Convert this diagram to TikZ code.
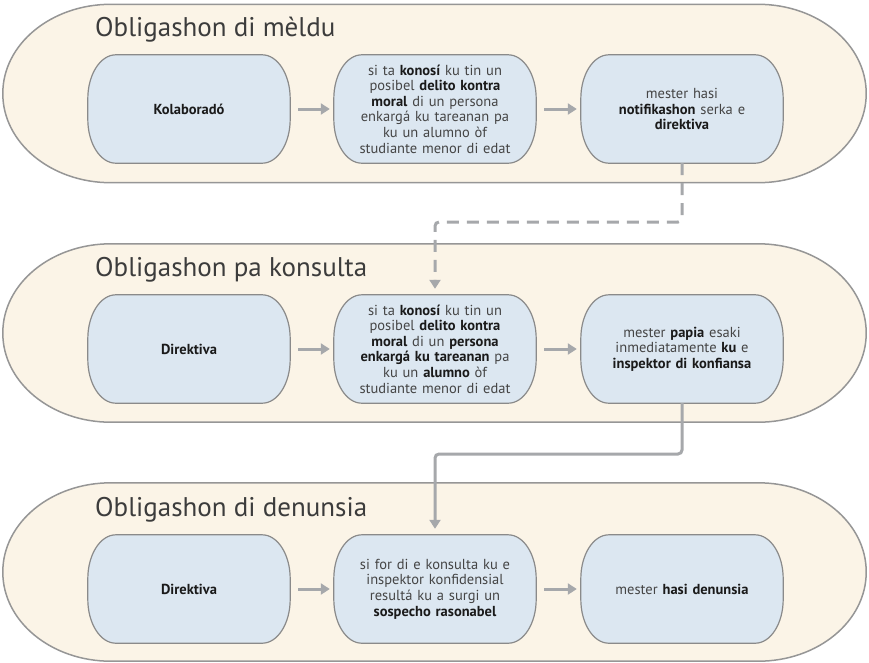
\documentclass[tikz,border=0pt]{standalone}
\usepackage{fontspec}
\setmainfont{PT Sans}
\usetikzlibrary{arrows.meta}
\definecolor{bandfill}{HTML}{FBF4E7}
\definecolor{bandline}{HTML}{969696}
\definecolor{boxfill}{HTML}{DCE7F1}
\definecolor{boxline}{HTML}{8A8A8A}
\definecolor{arrowgray}{HTML}{A6A8AB}
\definecolor{txt}{HTML}{454545}
\definecolor{txtb}{HTML}{1A1A1A}
\newcommand{\bt}[1]{{\bfseries\color{txtb}#1}}
\pgfdeclarelayer{bandlayer}
\pgfdeclarelayer{shapelayer}
\pgfsetlayers{bandlayer,shapelayer,main}
% elliptical-corner outline around a named node: #1 style, #2 node, #3 x radius, #4 y radius
\newcommand{\ovalbox}[4]{%
  \path[#1] ([xshift=#3]#2.north west) -- ([xshift=-#3]#2.north east)
    arc[start angle=90, end angle=0, x radius=#3, y radius=#4]
    -- ([yshift=#4]#2.south east)
    arc[start angle=0, end angle=-90, x radius=#3, y radius=#4]
    -- ([xshift=#3]#2.south west)
    arc[start angle=270, end angle=180, x radius=#3, y radius=#4]
    -- ([yshift=-#4]#2.north west)
    arc[start angle=180, end angle=90, x radius=#3, y radius=#4] -- cycle;}
\begin{document}
\begin{tikzpicture}[x=1pt,y=-1pt,
 band/.style={minimum width=863pt, minimum height=178pt, inner sep=0pt},
 bandpaint/.style={draw=bandline, line width=1.5pt, fill=bandfill},
 stagebox/.style={minimum width=202pt, minimum height=108pt, inner sep=2pt, align=center, text width=194pt, font=\fontsize{14.5}{15.6}\selectfont, text=txt},
 boxpaint/.style={draw=boxline, line width=1.2pt, fill=boxfill},
 bandtitle/.style={anchor=west, font=\fontsize{27}{30}\selectfont, text=txtb!85, inner sep=0pt},
 flow/.style={draw=arrowgray, line width=3pt, -{Triangle[length=9pt,width=11pt]}, shorten <=8pt, shorten >=4pt},
 link/.style={draw=arrowgray, line width=3pt, -{Triangle[length=9pt,width=11pt]}, rounded corners=4pt, shorten >=6pt},
]
\useasboundingbox (0,0) rectangle (869,662);

% bands
\node[band] (band1) at (434.5,93.5) {};
\node[band] (band2) at (434.5,333) {};
\node[band] (band3) at (434.5,572) {};

% titles
\node[bandtitle] (t1) at (95,30) {Obligashon di mèldu};
\node[bandtitle] (t2) at (95,270) {Obligashon pa konsulta};
\node[bandtitle] (t3) at (95,510) {Obligashon di denunsia};

% band 1 boxes
\node[stagebox] (a1) at (189,109) {\bt{Kolaboradó}};
\node[stagebox] (a2) at (435,109) {si ta \bt{konosí} ku tin un\\ posibel \bt{delito kontra}\\ \bt{moral} di un persona\\ enkargá ku tareanan pa\\ ku un alumno òf\\ studiante menor di edat};
\node[stagebox] (a3) at (682,109) {mester hasi\\ \bt{notifikashon} serka e\\ \bt{direktiva}};

% band 2 boxes
\node[stagebox] (b1) at (189,349) {\bt{Direktiva}};
\node[stagebox] (b2) at (435,349) {si ta \bt{konosí} ku tin un\\ posibel \bt{delito kontra}\\ \bt{moral} di un \bt{persona}\\ \bt{enkargá ku tareanan} pa\\ ku un \bt{alumno} òf\\ studiante menor di edat};
\node[stagebox] (b3) at (682,349) {mester \bt{papia} esaki\\ inmediatamente \bt{ku} e\\ \bt{inspektor di konfiansa}};

% band 3 boxes
\node[stagebox] (c1) at (189,589) {\bt{Direktiva}};
\node[stagebox] (c2) at (435,589) {si for di e konsulta ku e\\ inspektor konfidensial\\ resultá ku a surgi un\\ \bt{sospecho rasonabel}};
\node[stagebox] (c3) at (682,589) {mester \bt{hasi denunsia}};

% outlines on lower layers
\begin{pgfonlayer}{bandlayer}
  \ovalbox{bandpaint}{band1}{108pt}{89pt}
  \ovalbox{bandpaint}{band2}{108pt}{89pt}
  \ovalbox{bandpaint}{band3}{108pt}{89pt}
\end{pgfonlayer}
\begin{pgfonlayer}{shapelayer}
  \foreach \n in {a1,a2,a3,b1,b2,b3,c1,c2,c3} {\ovalbox{boxpaint}{\n}{28pt}{44pt}}
\end{pgfonlayer}

% horizontal arrows
\draw[flow] (a1) -- (a2);
\draw[flow] (a2) -- (a3);
\draw[flow] (b1) -- (b2);
\draw[flow] (b2) -- (b3);
\draw[flow] (c1) -- (c2);
\draw[flow] (c2) -- (c3);

% connectors between bands
\coordinate (m1) at (0,222);
\coordinate (m2) at (0,454);
\draw[link, dash pattern=on 12pt off 8pt] (a3.south) -- (a3.south |- m1) -| (b2.north);
\draw[link] (b3.south) -- (b3.south |- m2) -| (c2.north);
\end{tikzpicture}
\end{document}
